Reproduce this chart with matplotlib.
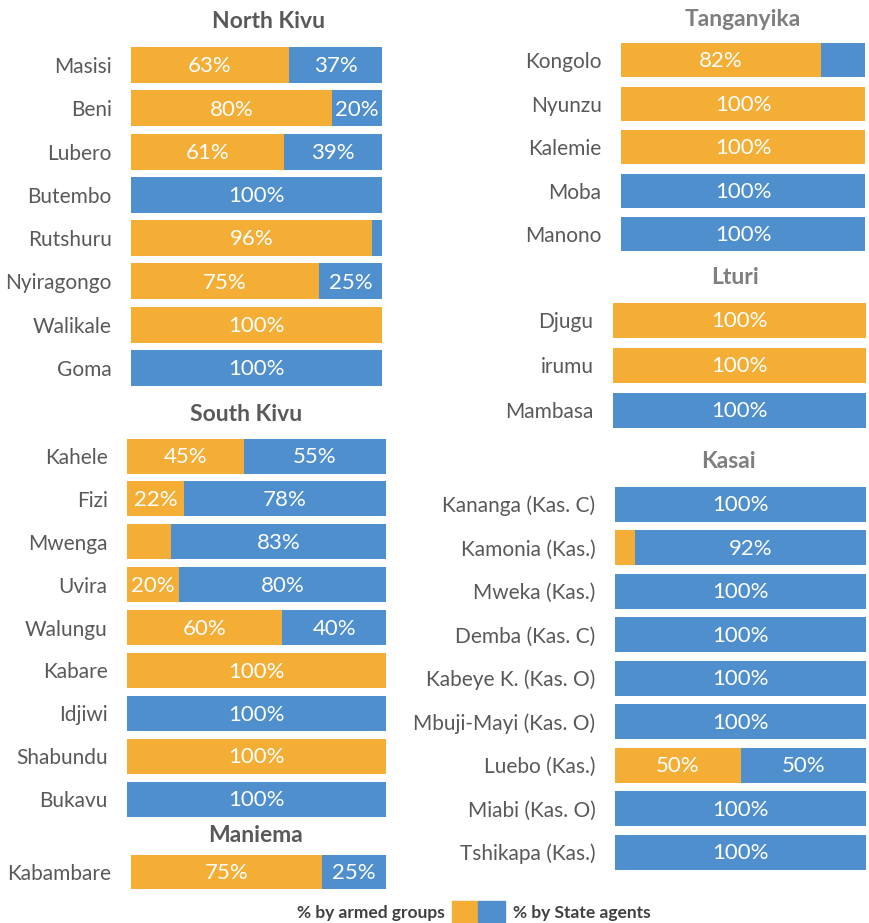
import matplotlib
matplotlib.use('Agg')
import matplotlib.pyplot as plt
from matplotlib.patches import Rectangle

plt.rcParams['font.family'] = ['Lato', 'DejaVu Sans']

ORANGE = '#F5AE35'
BLUE = '#4F8FCE'

# Data: % by armed groups per territory (remainder = % by State agents)
north_kivu = ['Masisi', 'Beni', 'Lubero', 'Butembo', 'Rutshuru', 'Nyiragongo', 'Walikale', 'Goma']
north_kivu_armed = [63, 80, 61, 0, 96, 75, 100, 0]

south_kivu = ['Kahele', 'Fizi', 'Mwenga', 'Uvira', 'Walungu', 'Kabare', 'Idjiwi', 'Shabundu', 'Bukavu']
south_kivu_armed = [45, 22, 17, 20, 60, 100, 0, 100, 0]

maniema = ['Kabambare']
maniema_armed = [75]

tanganyika = ['Kongolo', 'Nyunzu', 'Kalemie', 'Moba', 'Manono']
tanganyika_armed = [82, 100, 100, 0, 0]

lturi = ['Djugu', 'irumu', 'Mambasa']
lturi_armed = [100, 100, 0]

kasai = ['Kananga (Kas. C)', 'Kamonia (Kas.)', 'Mweka (Kas.)', 'Demba (Kas. C)', 'Kabeye K. (Kas. O)',
         'Mbuji-Mayi (Kas. O)', 'Luebo (Kas.)', 'Miabi (Kas. O)', 'Tshikapa (Kas.)']
kasai_armed = [0, 8, 0, 0, 0, 0, 50, 0, 0]

W, H = 869, 923
fig = plt.figure(figsize=(W / 100, H / 100), dpi=100)


def panel(names, armed, x0, x1, c1, cn, bar_px, title, tx, ty, tcolor):
    n = len(names)
    s = (cn - c1) / (n - 1) if n > 1 else 43.0
    top = c1 - s / 2
    bot = cn + s / 2
    ax = fig.add_axes([x0 / W, 1 - bot / H, (x1 - x0) / W, (bot - top) / H])
    state = [100 - a for a in armed]
    y = list(range(n))
    hgt = bar_px / s
    ax.barh(y, armed, height=hgt, color=ORANGE, edgecolor='none')
    ax.barh(y, state, left=armed, height=hgt, color=BLUE, edgecolor='none')
    for i in range(n):
        if armed[i] >= 20:
            ax.text(armed[i] / 2, i + 0.03, f'{armed[i]}%', ha='center', va='center',
                    color='white', fontsize=16)
        if state[i] >= 20:
            ax.text(armed[i] + state[i] / 2, i + 0.03, f'{state[i]}%', ha='center', va='center',
                    color='white', fontsize=16)
    ax.set_xlim(0, 100)
    ax.set_ylim(n - 0.5, -0.5)
    ax.set_yticks(y)
    ax.set_yticklabels(names, fontsize=15, color='#595959')
    ax.tick_params(axis='y', length=0, pad=14)
    ax.set_xticks([])
    for sp in ax.spines.values():
        sp.set_visible(False)
    fig.text(tx / W, 1 - ty / H, title, ha='center', va='center', fontsize=16.5,
             fontweight='bold', color=tcolor)
    return ax


panel(north_kivu, north_kivu_armed, 131, 382, 65, 368, 36, 'North Kivu', 268, 22, '#595959')
panel(south_kivu, south_kivu_armed, 127, 386, 456, 799, 35, 'South Kivu', 246, 414, '#595959')
panel(maniema, maniema_armed, 131, 386, 872, 872, 34, 'Maniema', 255, 836, '#595959')
panel(tanganyika, tanganyika_armed, 621, 865, 60, 234, 34, 'Tanganyika', 743, 20, '#7F7F7F')
panel(lturi, lturi_armed, 613, 866, 320, 410, 35, 'Lturi', 735, 277, '#7F7F7F')
panel(kasai, kasai_armed, 615, 866, 504, 852, 35, 'Kasai', 728, 461, '#7F7F7F')

# legend
fig.patches.append(Rectangle((452 / W, 1 - 922 / H), 26 / W, 21 / H, transform=fig.transFigure,
                             color=ORANGE))
fig.patches.append(Rectangle((478 / W, 1 - 922 / H), 27 / W, 21 / H, transform=fig.transFigure,
                             color=BLUE))
fig.text(445 / W, 1 - 913 / H, '% by armed groups', ha='right', va='center', fontsize=12.5,
         fontweight='bold', color='#404040')
fig.text(513 / W, 1 - 913 / H, '% by State agents', ha='left', va='center', fontsize=12.5,
         fontweight='bold', color='#404040')

fig.savefig('out.png', dpi=100, facecolor='white')
